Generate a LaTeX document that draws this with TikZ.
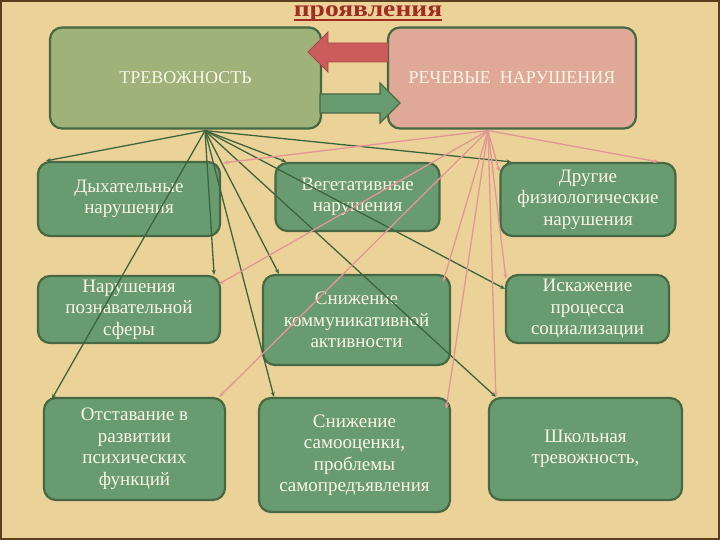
\documentclass[tikz,border=0pt]{standalone}
\usepackage{fontspec}
\setmainfont{Liberation Serif}
\usetikzlibrary{arrows.meta,calc}

\definecolor{paper}{RGB}{234,210,152}
\definecolor{framebrown}{RGB}{92,62,32}
\definecolor{boxgreen}{RGB}{104,156,112}
\definecolor{boxedge}{RGB}{70,104,66}
\definecolor{olive}{RGB}{158,178,122}
\definecolor{salmon}{RGB}{224,168,150}
\definecolor{linkgreen}{RGB}{62,100,60}
\definecolor{linkpink}{RGB}{226,150,150}
\definecolor{arrowred}{RGB}{204,92,92}
\definecolor{titlered}{RGB}{160,44,36}
\definecolor{cream}{RGB}{250,246,232}

\tikzstyle{effect} = [draw=boxedge, line width=2.2pt, rounded corners=12pt, fill=boxgreen, text=cream, align=center, inner sep=0pt, font=\fontsize{19}{21.5}\selectfont]
\tikzstyle{cause} = [effect, font=\fontsize{18}{21}\selectfont, minimum width=271pt, minimum height=101pt]
\tikzstyle{greenlink} = [draw=linkgreen, line width=1.3pt, -{Stealth[length=5pt,width=4pt]}]
\tikzstyle{pinklink} = [draw=linkpink, line width=1.3pt, -{Stealth[length=5pt,width=4pt]}]

\begin{document}
\begin{tikzpicture}[x=1pt,y=-1pt]
	\fill[paper] (0,0) rectangle (720,540);
	\useasboundingbox (0,0) rectangle (720,540);
	\draw[framebrown, line width=4pt] (0,0) rectangle (720,540);

	% title
	\node[anchor=base, inner sep=0pt, text=titlered, font=\fontsize{23}{26}\bfseries\addfontfeature{FakeStretch=1.2}] (title) at (368,17) {проявления};
	\draw[titlered, line width=2pt] ($(title.base west)+(0,3)$) -- ($(title.base east)+(0,3)$);

	% top boxes
	\node[cause, fill=olive] (trev) at (185.5,78) {ТРЕВОЖНОСТЬ};
	\node[cause, fill=salmon, minimum width=248pt] (rech) at (512,78) {РЕЧЕВЫЕ\ \ НАРУШЕНИЯ};

	\draw[arrowred!80!black, line width=0.8pt, fill=arrowred] (388,43) -- (328,43) -- (328,32) -- (308,52) -- (328,72) -- (328,62) -- (388,62) -- cycle;
	\draw[boxedge, line width=1.2pt, fill=boxgreen] (320,94) -- (380,94) -- (380,83) -- (400,103) -- (380,123) -- (380,113) -- (320,113) -- cycle;

	% effects
	\node[effect, minimum width=182pt, minimum height=74pt] (dyh) at (129,199) {Дыхательные\\нарушения};
	\node[effect, minimum width=164pt, minimum height=68pt] (veg) at (357.5,197) {Вегетативные\\нарушения};
	\node[effect, minimum width=175pt, minimum height=73pt] (dr) at (588,199.5) {Другие\\физиологические\\нарушения};
	\node[effect, minimum width=182pt, minimum height=67pt] (poz) at (129,309.5) {Нарушения\\познавательной\\сферы};
	\node[effect, minimum width=187pt, minimum height=90pt] (komm) at (356.5,320) {Снижение\\коммуникативной\\активности};
	\node[effect, minimum width=163pt, minimum height=68pt] (isk) at (587.5,309) {Искажение\\процесса\\социализации};
	\node[effect, minimum width=181pt, minimum height=102pt] (otst) at (134.5,449) {Отставание в\\развитии\\психических\\функций};
	\node[effect, minimum width=191pt, minimum height=114pt] (sam) at (354.5,455) {Снижение\\самооценки,\\проблемы\\самопредъявления};
	\node[effect, minimum width=193pt, minimum height=102pt] (shk) at (585.5,449) {Школьная\\тревожность,};

	\coordinate (tsrc) at ($(trev.south)+(19.5,1)$);
	\coordinate (rsrc) at ($(rech.south)+(-24,1)$);

	\draw[greenlink] (tsrc) -- ($(dyh.north west)+(9,0)$);
	\draw[greenlink] (tsrc) -- ($(otst.north west)+(9,2)$);
	\draw[greenlink] (tsrc) -- ($(poz.north east)+(-7,0)$);
	\draw[greenlink] (tsrc) -- ($(sam.north west)+(16,0)$);
	\draw[greenlink] (tsrc) -- ($(komm.north west)+(17,0)$);
	\draw[greenlink] (tsrc) -- ($(veg.north west)+(12,0)$);
	\draw[greenlink] (tsrc) -- ($(shk.north west)+(8,0)$);
	\draw[greenlink] (tsrc) -- ($(isk.north west)+(0,15)$);
	\draw[greenlink] (tsrc) -- ($(dr.north west)+(12,0)$);

	\draw[pinklink] (rsrc) -- ($(dyh.north east)+(2,2)$);
	\draw[pinklink] (rsrc) -- ($(poz.north east)+(-2,9)$);
	\draw[pinklink] (rsrc) -- ($(otst.north east)+(-7,0)$);
	\draw[pinklink] (rsrc) -- ($(komm.north east)+(-8,8)$);
	\draw[pinklink] (rsrc) -- ($(sam.north east)+(-5,12)$);
	\draw[pinklink] (rsrc) -- ($(shk.north west)+(8,0)$);
	\draw[pinklink] (rsrc) -- ($(isk.north west)+(1,5)$);
	\draw[pinklink] (rsrc) -- ($(dr.north west)+(0,10)$);
	\draw[pinklink] (rsrc) -- ($(dr.north east)+(-18,0)$);
\end{tikzpicture}
\end{document}
